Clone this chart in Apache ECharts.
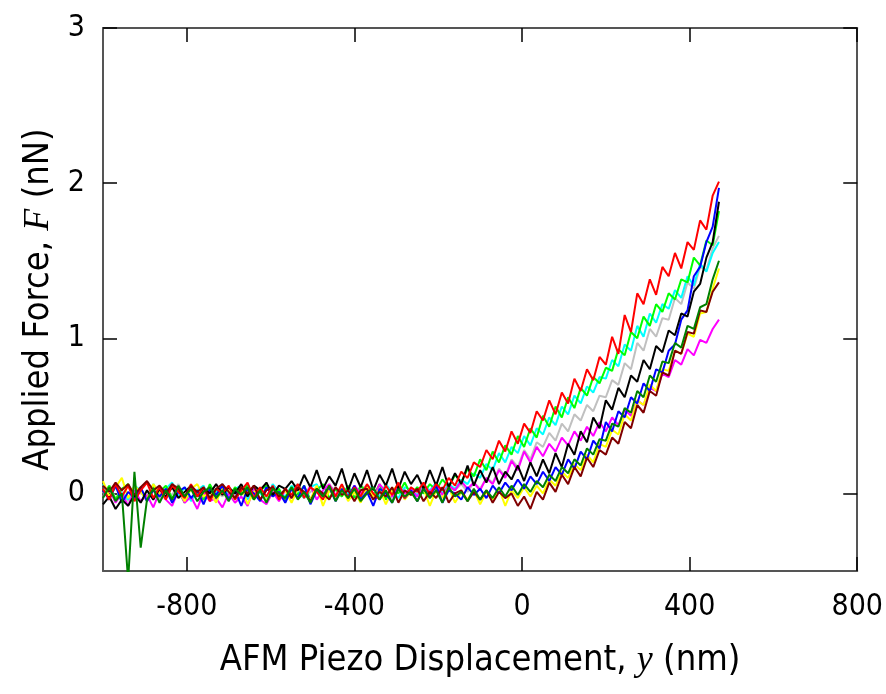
<!DOCTYPE html>
<html>
<head>
<meta charset="utf-8">
<script src="https://cdn.jsdelivr.net/npm/echarts@6/dist/echarts.min.js"></script>
<style>
  html, body { margin: 0; padding: 0; background: #fff; }
  #chart { width: 886px; height: 694px; }
</style>
</head>
<body>
<div id="chart"></div>
<script>
// piezo displacement (nm), shared by all runs
const xs = [
  -1000,-985,-970,-955,-940,-925,-910,-895,-880,-865,
  -850,-835,-820,-805,-790,-775,-760,-745,-730,-715,
  -700,-685,-670,-655,-640,-625,-610,-595,-580,-565,
  -550,-535,-520,-505,-490,-475,-460,-445,-430,-415,
  -400,-385,-370,-355,-340,-325,-310,-295,-280,-265,
  -250,-235,-220,-205,-190,-175,-160,-145,-130,-115,
  -100,-85,-70,-55,-40,-25,-10,5,20,35,
  50,65,80,95,110,125,140,155,170,185,
  200,215,230,245,260,275,290,305,320,335,
  350,365,380,395,410,425,440,455,470
]

// applied force (nN), one array per run
const silverRun = [
  0.00,0.05,-0.03,0.02,-0.05,0.04,0.00,-0.02,0.05,-0.04,
  0.02,-0.01,0.06,-0.03,0.03,0.00,-0.05,0.04,0.01,-0.02,
  0.04,-0.02,0.01,0.05,-0.03,0.03,0.06,-0.01,0.02,-0.04,
  0.03,0.06,-0.02,0.01,0.04,-0.03,0.05,0.02,-0.02,0.04,
  -0.02,0.03,0.05,-0.01,0.04,0.01,-0.03,0.05,0.00,0.03,
  -0.02,0.04,0.01,0.05,-0.01,0.04,0.02,0.06,0.01,0.07,
  0.03,0.10,0.07,0.16,0.11,0.22,0.17,0.28,0.22,0.33,
  0.30,0.39,0.34,0.45,0.40,0.51,0.47,0.57,0.53,0.63,
  0.62,0.73,0.70,0.84,0.80,0.97,0.92,1.06,1.01,1.13,
  1.12,1.26,1.22,1.36,1.32,1.46,1.44,1.58,1.66
]
const cyanRun = [
  0.06,-0.02,0.04,0.00,-0.04,0.05,0.02,-0.03,0.06,-0.01,
  0.03,0.07,-0.02,0.04,-0.05,0.02,0.05,-0.03,0.01,0.06,
  -0.02,0.03,0.05,-0.04,0.04,0.00,-0.03,0.06,0.01,-0.02,
  0.05,0.01,-0.03,0.04,0.06,-0.02,0.03,-0.04,0.05,0.00,
  0.02,-0.03,0.05,0.03,-0.02,0.06,0.01,-0.03,0.04,0.02,
  -0.01,0.05,0.02,0.07,0.00,0.06,0.03,0.09,0.06,0.13,
  0.10,0.19,0.15,0.26,0.20,0.30,0.26,0.37,0.31,0.42,
  0.38,0.49,0.44,0.56,0.51,0.63,0.58,0.69,0.65,0.75,
  0.74,0.86,0.82,0.96,0.92,1.08,1.01,1.16,1.10,1.22,
  1.19,1.31,1.26,1.40,1.34,1.48,1.43,1.55,1.62
]
const limeRun = [
  -0.02,0.05,-0.04,0.03,0.06,-0.03,0.02,-0.05,0.04,0.01,
  0.05,-0.03,0.02,-0.06,0.04,0.01,-0.04,0.06,-0.02,0.03,
  -0.03,0.04,0.00,0.06,-0.04,0.02,0.05,-0.02,0.03,-0.05,
  0.04,-0.01,0.05,-0.04,0.02,0.06,-0.03,0.03,-0.02,0.05,
  -0.03,0.05,0.01,-0.02,0.06,-0.04,0.03,0.00,0.07,-0.01,
  0.04,0.00,0.06,0.02,0.09,0.04,0.12,0.07,0.16,0.11,
  0.22,0.15,0.27,0.20,0.31,0.25,0.37,0.30,0.42,0.36,
  0.50,0.43,0.56,0.49,0.62,0.55,0.68,0.63,0.75,0.71,
  0.81,0.79,0.93,0.89,1.04,1.00,1.14,1.08,1.22,1.17,
  1.29,1.25,1.38,1.36,1.52,1.47,1.63,1.60,1.82
]
const magentaRun = [
  -0.02,0.03,-0.06,0.00,-0.08,0.02,-0.05,-0.01,-0.09,0.01,
  -0.04,-0.08,0.02,-0.06,-0.02,-0.10,0.01,-0.05,-0.03,-0.09,
  0.00,-0.06,-0.02,-0.08,0.03,-0.04,-0.07,0.01,-0.05,0.02,
  -0.03,0.04,-0.02,0.05,-0.04,0.02,0.06,-0.01,0.03,-0.03,
  0.05,0.00,0.04,-0.03,0.06,0.01,-0.02,0.05,0.00,0.03,
  -0.02,0.04,0.01,0.06,-0.01,0.05,0.02,0.08,0.03,0.07,
  0.02,0.10,0.06,0.15,0.10,0.21,0.15,0.27,0.20,0.30,
  0.24,0.32,0.27,0.36,0.31,0.40,0.34,0.43,0.37,0.46,
  0.40,0.49,0.44,0.54,0.50,0.60,0.57,0.68,0.66,0.77,
  0.75,0.86,0.83,0.93,0.89,0.99,0.97,1.06,1.12
]
const yellowRun = [
  0.08,-0.02,0.04,0.10,-0.03,0.05,0.01,-0.04,0.06,0.00,
  -0.03,0.05,0.02,-0.05,0.03,0.06,-0.02,0.01,-0.06,0.04,
  0.02,-0.04,0.05,-0.07,0.01,0.03,-0.05,0.04,-0.02,0.02,
  -0.06,0.03,0.00,-0.04,0.05,-0.08,0.02,-0.03,0.04,-0.05,
  0.01,-0.06,0.04,-0.02,0.03,-0.07,0.02,0.05,-0.04,0.01,
  -0.05,0.03,-0.08,0.02,-0.03,0.04,-0.06,0.01,-0.04,0.02,
  -0.07,0.01,-0.04,0.03,-0.08,0.02,-0.03,0.04,-0.02,0.05,
  0.00,0.09,0.05,0.14,0.10,0.19,0.15,0.25,0.20,0.32,
  0.30,0.41,0.38,0.51,0.47,0.60,0.57,0.70,0.66,0.80,
  0.79,0.92,0.90,1.03,1.01,1.16,1.17,1.32,1.45
]
const blueRun = [
  0.02,-0.04,0.05,-0.06,0.01,-0.03,0.04,-0.05,0.02,-0.02,
  0.03,-0.06,0.01,0.04,-0.03,0.02,-0.07,0.03,-0.01,0.05,
  -0.04,0.02,-0.08,0.03,0.00,-0.05,0.04,-0.02,0.01,-0.06,
  0.03,-0.03,0.05,-0.07,0.02,-0.01,0.04,-0.05,0.03,-0.02,
  0.05,-0.04,0.01,-0.08,0.03,0.00,-0.06,0.04,-0.03,0.02,
  -0.05,0.03,-0.02,0.05,-0.06,0.02,0.00,-0.04,0.04,-0.01,
  0.03,-0.03,0.05,0.00,0.07,0.02,0.09,0.03,0.11,0.06,
  0.14,0.08,0.17,0.12,0.22,0.16,0.27,0.22,0.34,0.29,
  0.46,0.40,0.53,0.49,0.62,0.58,0.71,0.66,0.80,0.78,
  0.92,0.96,1.12,1.18,1.40,1.46,1.62,1.72,1.97
]
const blackRun = [
  -0.07,-0.02,-0.10,-0.04,-0.08,-0.01,-0.06,0.02,-0.04,0.03,
  -0.02,0.04,-0.03,0.01,0.05,-0.02,0.03,0.00,0.06,-0.01,
  0.04,0.00,0.06,-0.02,0.05,0.02,0.07,-0.01,0.05,0.03,
  0.08,0.02,0.12,0.04,0.15,0.03,0.11,0.05,0.16,0.02,
  0.13,0.04,0.15,0.02,0.12,0.05,0.16,0.03,0.14,0.06,
  0.12,0.03,0.15,0.05,0.17,0.04,0.13,0.06,0.18,0.05,
  0.15,0.07,0.17,0.06,0.14,0.09,0.18,0.08,0.20,0.11,
  0.22,0.13,0.26,0.17,0.32,0.25,0.40,0.33,0.49,0.42,
  0.60,0.54,0.68,0.62,0.76,0.72,0.86,0.80,0.95,0.91,
  1.05,1.02,1.16,1.14,1.30,1.35,1.52,1.62,1.88
]
const redRun = [
  0.03,-0.04,0.06,-0.02,0.05,-0.05,0.02,0.07,-0.03,0.04,
  -0.04,0.05,0.01,-0.03,0.06,-0.02,0.04,-0.05,0.03,0.00,
  0.05,-0.04,0.02,0.07,-0.03,0.04,-0.02,0.05,-0.04,0.03,
  -0.01,0.06,-0.03,0.04,0.01,-0.04,0.05,-0.02,0.06,-0.03,
  0.04,-0.02,0.06,0.00,-0.04,0.05,-0.01,0.07,-0.03,0.04,
  0.01,0.07,-0.01,0.06,0.02,0.10,0.05,0.14,0.10,0.20,
  0.17,0.28,0.22,0.34,0.27,0.40,0.32,0.45,0.39,0.53,
  0.47,0.60,0.51,0.65,0.58,0.74,0.66,0.80,0.73,0.88,
  0.83,1.01,0.90,1.15,1.04,1.29,1.22,1.38,1.28,1.46,
  1.40,1.55,1.45,1.62,1.57,1.76,1.70,1.92,2.01
]
const maroonRun = [
  0.05,0.01,0.07,0.02,0.06,-0.01,0.04,0.08,0.02,0.05,
  0.00,0.06,0.03,-0.02,0.05,0.01,0.04,-0.03,0.03,0.06,
  0.01,-0.03,0.04,0.00,0.05,-0.04,0.02,0.04,-0.02,0.03,
  -0.03,0.04,0.01,-0.05,0.03,0.00,-0.04,0.04,-0.01,0.02,
  -0.05,0.02,0.03,-0.04,0.01,-0.02,0.04,-0.06,0.02,-0.01,
  0.03,-0.05,0.01,-0.03,0.04,-0.06,0.00,0.02,-0.05,0.01,
  -0.04,0.02,-0.06,0.01,-0.03,0.00,-0.08,-0.02,-0.10,0.01,
  -0.04,0.07,0.01,0.12,0.06,0.17,0.11,0.23,0.17,0.28,
  0.25,0.36,0.32,0.46,0.42,0.57,0.52,0.66,0.63,0.78,
  0.76,0.92,0.90,1.04,1.03,1.18,1.17,1.30,1.36
]
const darkGreenRun = [
  -0.03,0.04,-0.05,0.00,-0.56,0.14,-0.35,-0.04,0.03,-0.06,
  0.02,-0.04,0.05,-0.02,0.03,-0.05,0.01,0.04,-0.03,0.02,
  -0.05,0.03,-0.01,0.04,-0.04,0.02,-0.06,0.03,0.00,-0.03,
  0.04,-0.04,0.01,-0.06,0.03,-0.02,0.05,-0.05,0.02,-0.03,
  0.03,-0.05,0.00,0.04,-0.04,0.02,-0.06,0.03,-0.02,0.01,
  -0.05,0.03,-0.03,0.02,-0.06,0.04,-0.02,0.01,-0.05,0.03,
  -0.04,0.02,-0.03,0.04,-0.02,0.05,-0.01,0.06,0.01,0.08,
  0.04,0.12,0.08,0.17,0.13,0.22,0.18,0.29,0.25,0.35,
  0.34,0.45,0.43,0.55,0.52,0.66,0.62,0.76,0.72,0.85,
  0.84,0.97,0.94,1.08,1.06,1.20,1.22,1.38,1.50
]

const runs = [
  { name: 'silver', color: '#c0c0c0', vals: silverRun },
  { name: 'cyan', color: '#00ffff', vals: cyanRun },
  { name: 'lime', color: '#00ff00', vals: limeRun },
  { name: 'magenta', color: '#ff00ff', vals: magentaRun },
  { name: 'yellow', color: '#ffff00', vals: yellowRun },
  { name: 'blue', color: '#0000ff', vals: blueRun },
  { name: 'black', color: '#000000', vals: blackRun },
  { name: 'red', color: '#ff0000', vals: redRun },
  { name: 'maroon', color: '#800000', vals: maroonRun },
  { name: 'darkgreen', color: '#008000', vals: darkGreenRun }
]

const xTicks = [-800, -400, 0, 400, 800]
const yTicks = [0, 1, 2, 3]

let chartDom = document.getElementById('chart')
let myChart = echarts.init(chartDom)

const sansNarrow = "'Liberation Sans Narrow', 'Arial Narrow', 'DejaVu Sans Condensed', 'Liberation Sans', sans-serif"
const tickFont = { fontFamily: sansNarrow, fontSize: 30, color: '#000' }
const frameLine = { show: true, onZero: false, lineStyle: { color: '#555', width: 2 } }
const innerTick = { show: true, inside: true, length: 14, lineStyle: { color: '#000', width: 1.5 } }
const titleRich = {
  a: { fontFamily: sansNarrow, fontSize: 36, color: '#000' },
  i: { fontFamily: 'Liberation Serif', fontStyle: 'italic', fontSize: 36, color: '#000' }
}

let option = {
  animation: false,
  backgroundColor: '#fff',
  grid: { left: 103, right: 26, top: 28, bottom: 123 },
  xAxis: [
    {
      type: 'value', min: -1000, max: 800, position: 'bottom',
      name: '{a|AFM Piezo Displacement, }{i|y}{a| (nm)}',
      nameLocation: 'middle', nameGap: 72,
      nameTextStyle: { rich: titleRich },
      axisLine: frameLine,
      axisTick: Object.assign({ customValues: xTicks }, innerTick),
      axisLabel: Object.assign({ customValues: xTicks, margin: 21 }, tickFont),
      splitLine: { show: false }
    },
    {
      type: 'value', min: -1000, max: 800, position: 'top',
      axisLine: frameLine,
      axisTick: Object.assign({ customValues: xTicks }, innerTick),
      axisLabel: { show: false },
      splitLine: { show: false }
    }
  ],
  yAxis: [
    {
      type: 'value', min: -0.5, max: 3, position: 'left',
      name: '{a|Applied Force, }{i|F}{a| (nN)}',
      nameLocation: 'middle', nameGap: 44,
      nameTextStyle: { rich: titleRich },
      axisLine: frameLine,
      axisTick: Object.assign({ customValues: yTicks }, innerTick),
      axisLabel: Object.assign({ customValues: yTicks, margin: 18 }, tickFont),
      splitLine: { show: false }
    },
    {
      type: 'value', min: -0.5, max: 3, position: 'right',
      axisLine: frameLine,
      axisTick: Object.assign({ customValues: yTicks }, innerTick),
      axisLabel: { show: false },
      splitLine: { show: false }
    }
  ],
  series: runs.map((r) => ({
    name: r.name,
    type: 'line',
    xAxisIndex: 0,
    yAxisIndex: 0,
    showSymbol: false,
    symbol: 'none',
    clip: true,
    lineStyle: { color: r.color, width: 2 },
    itemStyle: { color: r.color },
    data: xs.map((x, i) => [x, r.vals[i]])
  }))
}
myChart.setOption(option)
</script>
</body>
</html>
